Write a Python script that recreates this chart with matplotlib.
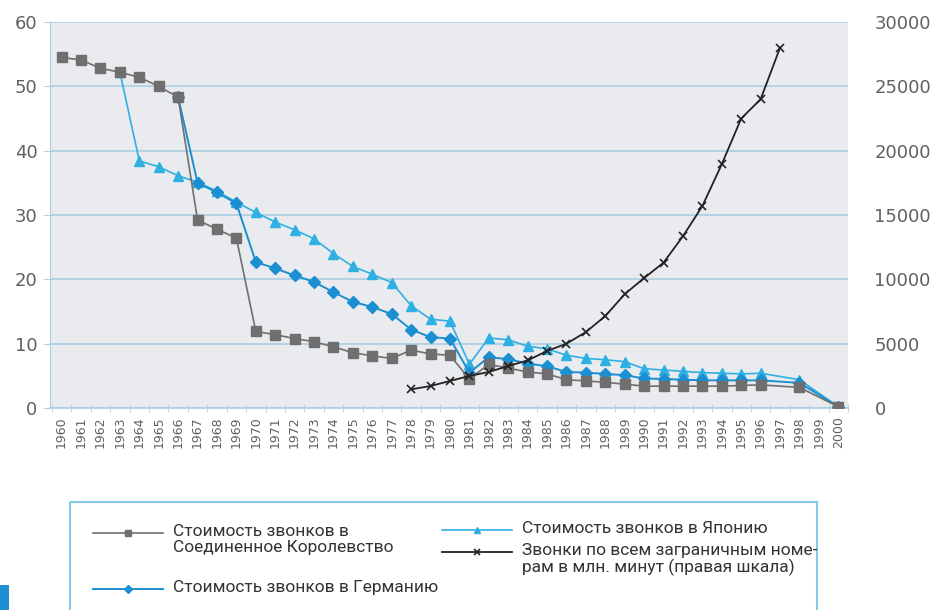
import numpy as np
import matplotlib
matplotlib.use("Agg")
import matplotlib.pyplot as plt
from matplotlib.lines import Line2D
from matplotlib.patches import Rectangle

# годы (категории оси X)
years = [str(y) for y in range(1960, 2001)]

# стоимость звонков (левая шкала), None = нет данных
uk = [54.5, 54.1, 52.8, 52.2, 51.4, 50.0, 48.3, 29.2, 27.8, 26.4,
      11.9, 11.4, 10.8, 10.3, 9.5, 8.6, 8.1, 7.7, 9.0, 8.4,
      8.2, 4.5, 6.8, 6.2, 5.6, 5.3, 4.4, 4.2, 4.0, 3.7,
      3.4, 3.4, 3.4, 3.4, 3.4, 3.5, 3.6, None, 3.2, None, 0.2]
germany = [None, None, None, None, None, None, 48.3, 35.0, 33.5, 31.8,
           22.7, 21.7, 20.6, 19.6, 18.0, 16.5, 15.7, 14.6, 12.2, 11.0,
           10.8, 5.5, 7.9, 7.6, 6.9, 6.5, 5.6, 5.5, 5.3, 5.1,
           4.6, 4.5, 4.4, 4.3, 4.3, 4.3, 4.3, None, 3.9, None, 0.2]
japan = [None, None, None, 52.2, 38.4, 37.5, 36.1, 35.1, 33.7, 32.0,
         30.4, 28.9, 27.7, 26.3, 24.0, 22.0, 20.8, 19.5, 15.9, 13.8,
         13.5, 6.8, 10.9, 10.6, 9.6, 9.2, 8.2, 7.7, 7.5, 7.2,
         6.1, 5.9, 5.7, 5.5, 5.4, 5.3, 5.4, None, 4.4, None, 0.2]
# звонки, млн минут (правая шкала)
calls = [None] * 18 + [1450, 1710, 2100, 2490, 2800, 3260, 3700, 4430, 5000, 5900,
                       7150, 8850, 10100, 11300, 13350, 15700, 18950, 22500, 24000, 28000,
                       None, None, None]

labels = ["Стоимость звонков в\nСоединенное Королевство",
          "Стоимость звонков в Германию",
          "Стоимость звонков в Японию",
          "Звонки по всем заграничным номе-\nрам в млн. минут (правая шкала)"]

st_uk = dict(color="#6f6f6f", marker="s", markersize=6.5, lw=1.2)
st_de = dict(color="#1b8fd2", marker="D", markersize=6.5, lw=1.4)
st_jp = dict(color="#2fb0e3", marker="^", markersize=7, lw=1.2)
st_calls = dict(color="#222222", marker="x", markersize=6, lw=1.3, markeredgewidth=1.2)

grid_c = "#a9cfe4"
tick_c = "#606060"


def valid(vals):
    x = np.array([i for i, v in enumerate(vals) if v is not None])
    y = np.array([v for v in vals if v is not None], float)
    return x, y


fig = plt.figure(figsize=(9.46, 6.10), dpi=100)
ax = fig.add_axes([50/946, 1-408/610, (848-50)/946, (408-22)/610])
ax.set_facecolor("#e9ebee")

for vals, st in [(japan, st_jp), (germany, st_de), (uk, st_uk)]:
    x, y = valid(vals)
    ax.plot(x, y, **st, zorder=3)

ax.set_ylim(0, 60)
ax.set_xlim(-0.6, 40.28)
ax.set_yticks(range(0, 61, 10))
ax.yaxis.grid(True, color=grid_c, lw=1.2)
ax.set_axisbelow(True)
ax.set_xticks(range(len(years)))
ax.set_xticklabels(years, rotation=90, fontsize=9, color=tick_c)
ax.set_xticks(np.arange(-0.5, len(years), 1), minor=True)
ax.tick_params(axis="x", which="major", length=0, pad=6)
ax.tick_params(axis="x", which="minor", length=6, direction="inout", color=grid_c)
ax.tick_params(axis="y", length=4, color=grid_c, labelsize=13, labelcolor=tick_c, pad=5)
for s in ["top", "right"]:
    ax.spines[s].set_visible(False)
ax.spines["left"].set_color(grid_c)
ax.spines["bottom"].set_color(grid_c)
ax.spines["bottom"].set_linewidth(1.2)

ax2 = ax.twinx()
x, y = valid(calls)
ax2.plot(x, y, **st_calls, zorder=4)
ax2.set_ylim(0, 30000)
ax2.set_yticks(range(0, 30001, 5000))
ax2.tick_params(axis="y", length=0, labelsize=13, labelcolor=tick_c, pad=19)
for s in ax2.spines.values():
    s.set_visible(False)

# легенда в пиксельных координатах
lax = fig.add_axes([0, 0, 1, 1])
lax.set_xlim(0, 946)
lax.set_ylim(610, 0)
lax.axis("off")
lax.add_patch(Rectangle((70, 502), 747, 130, fill=False, ec="#86c7e6", lw=1.5))
lax.add_patch(Rectangle((0, 585), 9, 30, color="#1e8fd0", lw=0))

lfont = dict(family=["Roboto", "DejaVu Sans"], fontsize=12.5,
             color="#333333", va="top", ha="left", linespacing=1.08)
entries = [(st_uk, 93, 533, labels[0]), (st_de, 93, 589, labels[1]),
           (st_jp, 442, 530, labels[2]), (st_calls, 442, 552, labels[3])]
for st, x0, y0, lab in entries:
    s = dict(st)
    s["markersize"] = s["markersize"] * 0.7
    lax.add_line(Line2D([x0, x0 + 35, x0 + 70], [y0, y0, y0], markevery=[1], **s))
    lax.text(x0 + 80, y0 - 9, lab, **lfont)

fig.savefig("out.png", dpi=100)
